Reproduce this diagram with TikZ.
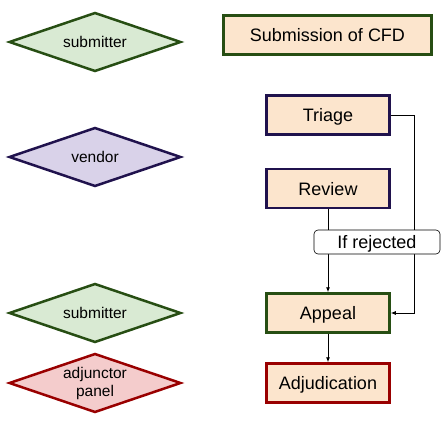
\documentclass[tikz,border=0pt]{standalone}
\usepackage{fontspec}
\setmainfont{Liberation Sans}
\usetikzlibrary{shapes.geometric,arrows.meta}
\definecolor{rolegreen}{HTML}{274E13}
\definecolor{rolegreenfill}{HTML}{D9EAD3}
\definecolor{rolepurple}{HTML}{20124D}
\definecolor{rolepurplefill}{HTML}{D9D2E9}
\definecolor{rolered}{HTML}{990000}
\definecolor{roleredfill}{HTML}{F4CCCC}
\definecolor{stagefill}{HTML}{FCE5CD}

\begin{document}
\begin{tikzpicture}[x=1pt, y=-1pt,
    role/.style={diamond, shape aspect=2.9, draw, line width=2.5pt, minimum width=172pt, minimum height=59pt, inner sep=0pt, align=center, font=\fontsize{15.5}{18}\selectfont},
    stage/.style={rectangle, draw, line width=2.5pt, fill=stagefill, minimum width=123pt, minimum height=39pt, inner sep=0pt, text height=13pt, text depth=0pt, font=\fontsize{18}{21}\selectfont},
    flow/.style={-{Latex[length=5pt,width=4pt]}, line width=0.8pt}]
    \useasboundingbox (0,0) rectangle (445,428);

    % Roles
    \node[role, draw=rolegreen, fill=rolegreenfill] (submitter) at (95,42) {submitter};
    \node[role, draw=rolepurple, fill=rolepurplefill] (vendor) at (95,157) {vendor};
    \node[role, draw=rolegreen, fill=rolegreenfill] (appellant) at (95,313) {submitter};
    \node[role, draw=rolered, fill=roleredfill] (panel) at (95,383) {adjunctor\\panel};

    % Stages
    \node[stage, draw=rolegreen, minimum width=208pt] (submission) at (327.5,35) {Submission of CFD};
    \node[stage, draw=rolepurple] (triage) at (328,115) {Triage};
    \node[stage, draw=rolepurple] (review) at (328,188.5) {Review};
    \node[stage, draw=rolegreen] (appeal) at (328,313) {Appeal};
    \node[stage, draw=rolered] (adjudication) at (328,383) {Adjudication};

    % Connections
    \draw[flow] (review) -- (appeal);
    \draw[flow] (triage.east) -- ++(24,0) |- (appeal.east);
    \draw[flow] (appeal) -- (adjudication);

    % Label
    \node[draw, fill=white, rounded corners=4pt, line width=0.6pt, minimum width=126pt, minimum height=24pt, inner sep=0pt, text height=13pt, text depth=0pt, font=\fontsize{18}{21}\selectfont] (rejected) at (377,242) {If rejected};
\end{tikzpicture}
\end{document}
